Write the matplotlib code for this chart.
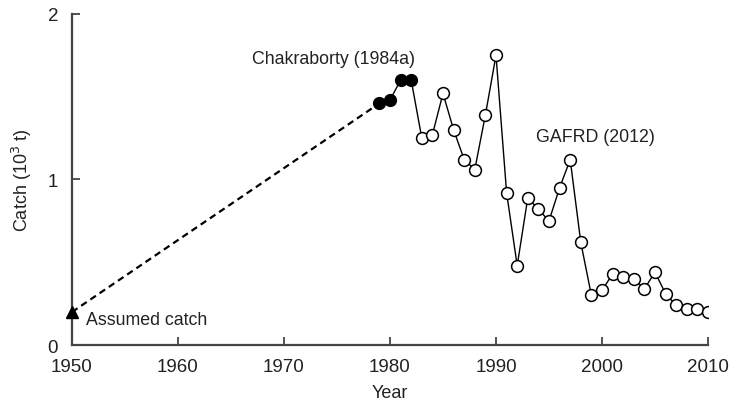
import matplotlib
matplotlib.use("Agg")
import matplotlib.pyplot as plt

plt.rcParams['font.family'] = ['Liberation Sans', 'DejaVu Sans']
plt.rcParams['text.color'] = '#222222'

assumed_year = [1950]
assumed_catch = [0.20]

chak_years = [1979, 1980, 1981, 1982]
chak_catch = [1.46, 1.48, 1.60, 1.60]

gafrd_years = list(range(1983, 2011))
gafrd_catch = [1.25, 1.27, 1.52, 1.30, 1.12, 1.06, 1.39, 1.75, 0.92, 0.48,
               0.89, 0.82, 0.75, 0.95, 1.12, 0.62, 0.30, 0.33, 0.43, 0.41,
               0.40, 0.34, 0.44, 0.31, 0.24, 0.22, 0.22, 0.20]

xticks = [1950, 1960, 1970, 1980, 1990, 2000, 2010]
yticks = [0, 1, 2]

fig = plt.figure(figsize=(7.5, 4.02), dpi=100)
ax = fig.add_axes([0.096, 0.139, 0.848, 0.824])

# dashed assumed segment
ax.plot([assumed_year[0], chak_years[0]], [assumed_catch[0], chak_catch[0]],
        ls=(0, (3, 2)), color='black', lw=1.6, zorder=2)
# solid line through data
ax.plot(chak_years + gafrd_years, chak_catch + gafrd_catch, color='black', lw=1.0, zorder=2)
ax.plot(assumed_year, assumed_catch, marker='^', color='black', ms=9, ls='none', clip_on=False, zorder=3)
ax.plot(chak_years, chak_catch, marker='o', color='black', mfc='black', ms=8.5, ls='none', zorder=3)
ax.plot(gafrd_years, gafrd_catch, marker='o', color='black', mfc='white', mew=1.1, ms=8.5, ls='none', zorder=3)

ax.set_xlim(1950, 2010)
ax.set_ylim(0, 2)
ax.set_xticks(xticks)
ax.set_yticks(yticks)
ax.tick_params(direction='in', length=6, width=1.3, color='#444444', labelsize=13.5,
               labelcolor='#222222')
ax.tick_params(axis='y', pad=10)
ax.tick_params(axis='x', pad=9)
for s in ['top', 'right']:
    ax.spines[s].set_visible(False)
for s in ['left', 'bottom']:
    ax.spines[s].set_linewidth(1.6)
    ax.spines[s].set_color('#444444')

ax.set_xlabel('Year', fontsize=13, labelpad=7, color='#222222')
ax.set_ylabel('Catch (10$^3$ t)', fontsize=13, labelpad=10, color='#222222')

ax.text(1951.3, 0.157, 'Assumed catch', fontsize=12.75, va='center', ha='left')
ax.text(1974.7, 1.73, 'Chakraborty (1984a)', fontsize=12.75, va='center', ha='center')
ax.text(1999.4, 1.26, 'GAFRD (2012)', fontsize=12.75, va='center', ha='center')

fig.savefig('out.png', dpi=100)
